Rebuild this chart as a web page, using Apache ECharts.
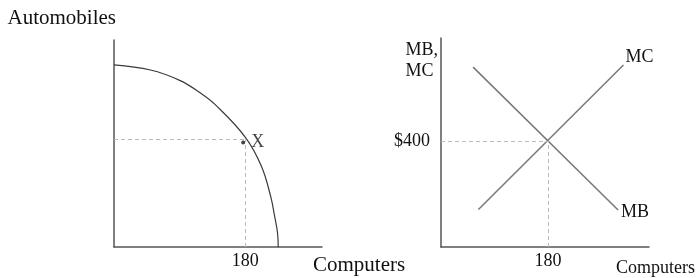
<!DOCTYPE html>
<html>
<head>
<meta charset="utf-8">
<script src="https://cdn.jsdelivr.net/npm/echarts@6/dist/echarts.min.js"></script>
<style>
  html, body { margin: 0; background: #fff; }
  #main { width: 700px; height: 278px; }
</style>
</head>
<body>
<div id="main"></div>
<script>
// left panel: production possibilities frontier
const ppfComputers = [0, 50, 90, 118, 138, 180, 202, 215, 220, 224, 225]
const ppfAutos = [88, 85.5, 80.5, 74.5, 69, 53, 39, 24, 15, 7, 0]
const pointX = [177, 50.5]
const ppfGuide = [180, 52]

// right panel: marginal benefit / marginal cost lines
const mcComputers = [63, 307]
const mcValues = [142, 688]
const mbComputers = [54, 298]
const mbValues = [680, 140]
const equilibrium = [180, 400]

const font = "'Liberation Serif', 'Times New Roman', serif"
const textColor = '#111'
const axisColor = '#555'
const guideStyle = { color: '#bbb', width: 1, type: [4, 3] }

function zip(xs, ys) {
  return xs.map((x, i) => [x, ys[i]])
}

// axis helper, only the equilibrium values get a label
function axis(opt) {
  return Object.assign({
    type: 'value',
    min: 0,
    splitLine: { show: false },
    axisTick: { show: false },
    axisLine: { show: true, onZero: false, lineStyle: { color: axisColor, width: 1.5 } },
  }, opt)
}

const chart = echarts.init(document.getElementById('main'))

chart.setOption({
  animation: false,
  backgroundColor: '#fff',
  grid: [
    { left: 114, top: 40, width: 208, height: 207 },
    { left: 441, top: 38, width: 208, height: 209 },
  ],
  xAxis: [
    axis({
      gridIndex: 0, max: 285, interval: 180,
      name: 'Computers', nameLocation: 'end', nameGap: -9,
      nameTextStyle: { color: textColor, fontFamily: font, fontSize: 21, verticalAlign: 'top', padding: [8, 0, 0, 0] },
      axisLabel: {
        color: textColor, fontFamily: font, fontSize: 18, margin: 5,
        formatter: (v) => (v === 180 ? '180' : ''),
      },
    }),
    axis({
      gridIndex: 1, max: 350, interval: 180,
      name: 'Computers', nameLocation: 'end', nameGap: -33,
      nameTextStyle: { color: textColor, fontFamily: font, fontSize: 18, verticalAlign: 'top', padding: [12, 0, 0, 0] },
      axisLabel: {
        color: textColor, fontFamily: font, fontSize: 18, margin: 5,
        formatter: (v) => (v === 180 ? '180' : ''),
      },
    }),
  ],
  yAxis: [
    axis({
      gridIndex: 0, max: 100,
      name: 'Automobiles', nameLocation: 'end', nameGap: 11,
      nameTextStyle: { color: textColor, fontFamily: font, fontSize: 21, align: 'right', padding: [0, -2, 0, 0] },
      axisLabel: { show: false },
    }),
    axis({
      gridIndex: 1, max: 790, interval: 400,
      name: 'MB,\nMC ', nameLocation: 'end', nameGap: -44,
      nameTextStyle: { color: textColor, fontFamily: font, fontSize: 18, align: 'right', lineHeight: 21, padding: [0, 3, 0, 0] },
      axisLabel: {
        color: textColor, fontFamily: font, fontSize: 18, margin: 11,
        formatter: (v) => (v === 400 ? '$400' : ''),
      },
    }),
  ],
  series: [
    {
      name: 'PPF',
      type: 'line',
      xAxisIndex: 0, yAxisIndex: 0,
      data: zip(ppfComputers, ppfAutos),
      smooth: 0.4,
      symbol: 'none',
      lineStyle: { color: '#3a3a3a', width: 1.2 },
      markLine: {
        silent: true, symbol: 'none', label: { show: false },
        lineStyle: guideStyle,
        data: [
          [{ coord: [0, ppfGuide[1]] }, { coord: [ppfGuide[0], ppfGuide[1]] }],
          [{ coord: [ppfGuide[0], 0] }, { coord: [ppfGuide[0], ppfGuide[1]] }],
        ],
      },
    },
    {
      name: 'X',
      type: 'scatter',
      xAxisIndex: 0, yAxisIndex: 0,
      data: [pointX],
      symbolSize: 4,
      itemStyle: { color: '#111' },
      label: {
        show: true, position: 'right', distance: 6,
        formatter: 'X', color: textColor, fontFamily: font, fontSize: 18,
      },
    },
    {
      name: 'MC',
      type: 'line',
      xAxisIndex: 1, yAxisIndex: 1,
      data: zip(mcComputers, mcValues),
      symbol: 'none',
      lineStyle: { color: '#777', width: 1.5 },
      endLabel: {
        show: true, formatter: '{a}', distance: 0, offset: [2, -8],
        color: textColor, fontFamily: font, fontSize: 18,
      },
      markLine: {
        silent: true, symbol: 'none', label: { show: false },
        lineStyle: guideStyle,
        data: [
          [{ coord: [0, equilibrium[1]] }, { coord: [equilibrium[0], equilibrium[1]] }],
          [{ coord: [equilibrium[0], 0] }, { coord: [equilibrium[0], equilibrium[1]] }],
        ],
      },
    },
    {
      name: 'MB',
      type: 'line',
      xAxisIndex: 1, yAxisIndex: 1,
      data: zip(mbComputers, mbValues),
      symbol: 'none',
      lineStyle: { color: '#777', width: 1.5 },
      endLabel: {
        show: true, formatter: '{a}', distance: 0, offset: [3, 2],
        color: textColor, fontFamily: font, fontSize: 18,
      },
    },
  ],
})
</script>
</body>
</html>
